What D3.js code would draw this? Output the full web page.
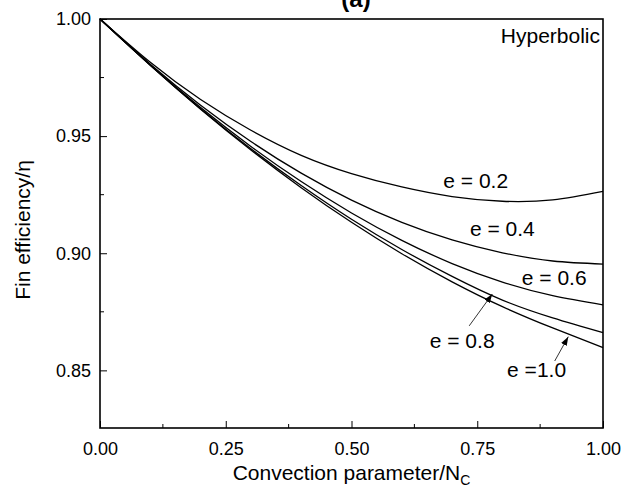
<!DOCTYPE html>
<html>
<head>
<meta charset="utf-8">
<script src="https://cdn.jsdelivr.net/npm/d3@7"></script>
<style>
  body { margin: 0; background: #fff; }
  text { font-family: "Liberation Sans", Arial, Helvetica, sans-serif; fill: #000; }
</style>
</head>
<body>
<div id="chart"></div>
<script>
// data
var nc = [0, 0.1, 0.2, 0.3, 0.4, 0.5, 0.6, 0.7, 0.8, 0.9, 1.0];
var eta02 = [1.0, 0.9815, 0.9656, 0.9525, 0.9418, 0.9340, 0.9283, 0.9242, 0.9222, 0.9228, 0.9264];
var eta04 = [1.0, 0.9807, 0.9632, 0.9477, 0.9342, 0.9227, 0.9132, 0.9057, 0.9002, 0.8967, 0.8954];
var eta06 = [1.0, 0.9804, 0.9622, 0.9456, 0.9306, 0.9172, 0.9055, 0.8956, 0.8877, 0.8819, 0.8780];
var eta08 = [1.0, 0.9803, 0.9617, 0.9446, 0.9289, 0.9145, 0.9016, 0.8901, 0.8800, 0.8724, 0.8661];
var eta10 = [1.0, 0.9802, 0.9615, 0.9441, 0.9280, 0.9132, 0.8998, 0.8878, 0.8772, 0.8681, 0.8597];
var seriesNames = ["e = 0.2", "e = 0.4", "e = 0.6", "e = 0.8", "e =1.0"];
var xTicks = [0, 0.25, 0.5, 0.75, 1.0];
var yTicks = [0.85, 0.90, 0.95, 1.00];

// label anchors (data coords)
var labelX = [0.747, 0.800, 0.903, 0.720, 0.868];
var labelY = [0.928, 0.9075, 0.8866, 0.8597, 0.8473];
// arrows: [x1, y1, x2, y2] in data coords
var arrows = [[0.734, 0.869, 0.780, 0.8826], [0.904, 0.854, 0.931, 0.8644]];

var width = 640, height = 492;
var margin = {top: 19, right: 37, bottom: 64, left: 100};

var svg = d3.select("#chart").append("svg")
  .attr("width", width)
  .attr("height", height);

var x = d3.scaleLinear().domain([0, 1]).range([margin.left, width - margin.right]);
var y = d3.scaleLinear().domain([0.8254, 1.0]).range([height - margin.bottom, margin.top]);

var allSeries = [eta02, eta04, eta06, eta08, eta10];

// curves
var line = d3.line()
  .x(function (d, i) { return x(nc[i]); })
  .y(function (d) { return y(d); })
  .curve(d3.curveNatural);

svg.append("g")
  .selectAll("path")
  .data(allSeries)
  .join("path")
  .attr("d", line)
  .attr("fill", "none")
  .attr("stroke", "#000")
  .attr("stroke-width", 1.3);

// axes (ticks inside)
var xAxis = d3.axisBottom(x).tickValues(xTicks).tickSize(-7).tickPadding(14)
  .tickFormat(d3.format(".2f"));
var gx = svg.append("g")
  .attr("transform", "translate(0," + (height - margin.bottom) + ")")
  .call(xAxis);
gx.selectAll(".tick text").attr("font-size", 18);
gx.append("g").selectAll("line")
  .data([0.125, 0.375, 0.625, 0.875])
  .join("line")
  .attr("x1", function (d) { return x(d); })
  .attr("x2", function (d) { return x(d); })
  .attr("y1", 0).attr("y2", -4)
  .attr("stroke", "#000");

var yAxis = d3.axisLeft(y).tickValues(yTicks).tickSize(-7).tickPadding(9)
  .tickFormat(d3.format(".2f"));
var gy = svg.append("g")
  .attr("transform", "translate(" + margin.left + ",0)")
  .call(yAxis);
gy.selectAll(".tick text").attr("font-size", 18);
gy.append("g").selectAll("line")
  .data([0.875, 0.925, 0.975])
  .join("line")
  .attr("y1", function (d) { return y(d); })
  .attr("y2", function (d) { return y(d); })
  .attr("x1", 0).attr("x2", 4)
  .attr("stroke", "#000");

svg.selectAll(".domain").remove();
svg.selectAll(".tick line").attr("stroke", "#000");

// frame
svg.append("rect")
  .attr("x", margin.left)
  .attr("y", margin.top)
  .attr("width", width - margin.left - margin.right)
  .attr("height", height - margin.top - margin.bottom)
  .attr("fill", "none")
  .attr("stroke", "#000")
  .attr("stroke-width", 1.6);

// series labels
svg.append("g")
  .selectAll("text")
  .data(seriesNames)
  .join("text")
  .attr("x", function (d, i) { return x(labelX[i]); })
  .attr("y", function (d, i) { return y(labelY[i]); })
  .attr("text-anchor", "middle")
  .attr("font-size", 21)
  .text(function (d) { return d; });

// arrows
svg.append("defs").append("marker")
  .attr("id", "head")
  .attr("viewBox", "0 0 10 10")
  .attr("refX", 10).attr("refY", 5)
  .attr("markerWidth", 9).attr("markerHeight", 9)
  .attr("markerUnits", "userSpaceOnUse")
  .attr("orient", "auto")
  .append("path")
  .attr("d", "M0,1.5L10,5L0,8.5Z")
  .attr("fill", "#000");

svg.append("g")
  .selectAll("line")
  .data(arrows)
  .join("line")
  .attr("x1", function (d) { return x(d[0]); })
  .attr("y1", function (d) { return y(d[1]); })
  .attr("x2", function (d) { return x(d[2]); })
  .attr("y2", function (d) { return y(d[3]); })
  .attr("stroke", "#000")
  .attr("stroke-width", 0.8)
  .attr("marker-end", "url(#head)");

// corner text
svg.append("text")
  .attr("x", x(1) - 3)
  .attr("y", y(0.9897))
  .attr("text-anchor", "end")
  .attr("font-size", 21)
  .text("Hyperbolic");

// title, cut off at top as in the original
svg.append("text")
  .attr("x", 356)
  .attr("y", 7)
  .attr("text-anchor", "middle")
  .attr("font-size", 24)
  .attr("font-weight", "bold")
  .text("(a)");

// axis titles
var xt = svg.append("text")
  .attr("x", x(0.5))
  .attr("y", 480)
  .attr("text-anchor", "middle")
  .attr("font-size", 21);
xt.append("tspan").text("Convection parameter/N");
xt.append("tspan").attr("font-size", 14).attr("dy", 5).text("C");

svg.append("text")
  .attr("transform", "translate(30,230) rotate(-90)")
  .attr("text-anchor", "middle")
  .attr("font-size", 21)
  .text("Fin efficiency/\u03b7");
</script>
</body>
</html>
